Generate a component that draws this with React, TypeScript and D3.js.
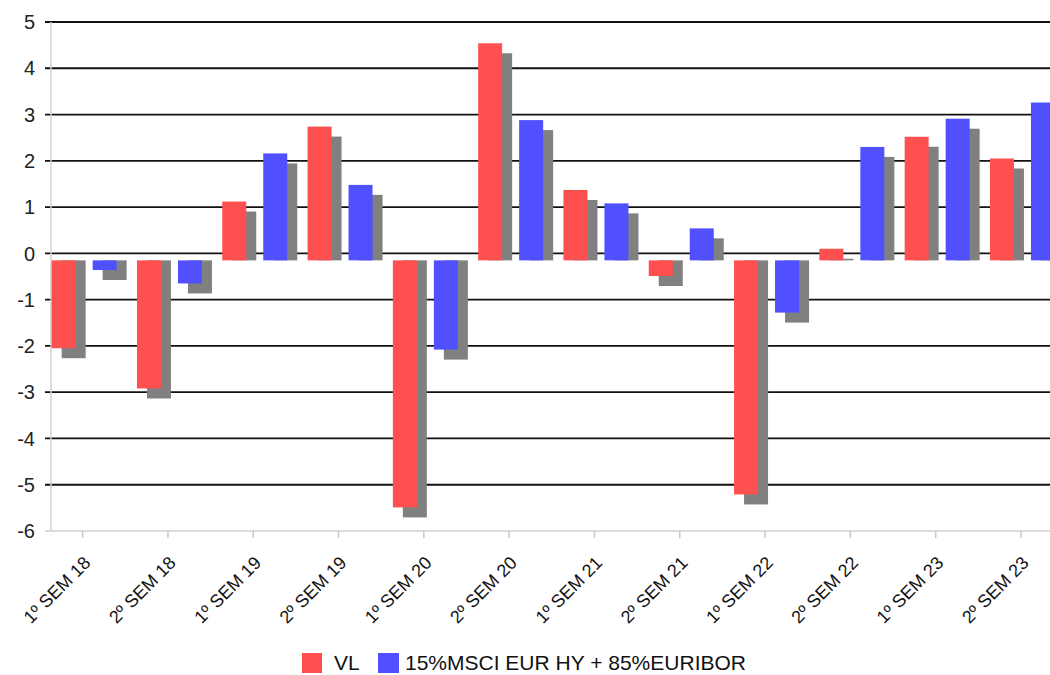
import * as d3 from 'd3';
import React from 'react';

const categories = [
  '1º SEM 18', '2º SEM 18', '1º SEM 19', '2º SEM 19', '1º SEM 20', '2º SEM 20',
  '1º SEM 21', '2º SEM 21', '1º SEM 22', '2º SEM 22', '1º SEM 23', '2º SEM 23',
];
const vlValues = [-2.05, -2.92, 1.12, 2.74, -5.49, 4.54, 1.37, -0.49, -5.21, 0.1, 2.52, 2.05];
const benchValues = [-0.36, -0.65, 2.16, 1.48, -2.08, 2.88, 1.08, 0.54, -1.28, 2.3, 2.91, 3.26];
const seriesNames = ['VL', '15%MSCI EUR HY + 85%EURIBOR'];
const seriesColors = ['#ff5050', '#5050ff'];
const yTicks = [5, 4, 3, 2, 1, 0, -1, -2, -3, -4, -5, -6];

const width = 1050;
const height = 675;
const font = '"Liberation Sans", Arial, sans-serif';

export default function App() {
  const axisX = 51;
  const x0 = d3
    .scaleBand<string>()
    .domain(categories)
    .range([41.5, 41.5 + 12 * 85.3])
    .paddingInner(0.238)
    .paddingOuter(0.119);
  const x1 = d3
    .scaleBand<string>()
    .domain(seriesNames)
    .range([0, x0.bandwidth()])
    .paddingInner(17 / 41);
  const y = d3.scaleLinear().domain([-6, 5]).range([531, 22]);

  const base = y(0) + 7; // bars sit a little below the zero line
  const shadow = 10;
  const series = [vlValues, benchValues];

  return (
    <svg
      width={width}
      height={height}
      style={{ position: 'absolute', left: 0, top: 0, background: '#fff' }}
      fontFamily={font}
    >
      {/* grid lines + y ticks */}
      {yTicks.map((t) =>
        t === -6 ? null : (
          <line key={`g${t}`} x1={45} x2={width} y1={y(t)} y2={y(t)} stroke="#111" strokeWidth={1.8} />
        ),
      )}
      {yTicks.map((t) => (
        <text
          key={`l${t}`}
          x={35}
          y={y(t)}
          dy="0.36em"
          textAnchor="end"
          fontSize={20}
          fill="#222"
        >
          {t}
        </text>
      ))}
      {/* axes */}
      <line x1={axisX} x2={axisX} y1={y(5)} y2={y(-6)} stroke="#d0d0d0" strokeWidth={1.5} />
      <line x1={45} x2={width} y1={y(-6)} y2={y(-6)} stroke="#d0d0d0" strokeWidth={1.5} />

      {/* bars */}
      {categories.map((c, i) => (
        <g key={c}>
          {series.map((vals, s) => {
            const v = vals[i];
            const bx = (x0(c) ?? 0) + (x1(seriesNames[s]) ?? 0);
            const bw = x1.bandwidth();
            const yv = y(v);
            const ys = yv + shadow;
            return (
              <g key={s}>
                <rect
                  x={bx + shadow}
                  y={Math.min(base, ys)}
                  width={bw}
                  height={Math.abs(base - ys)}
                  fill="#808080"
                />
                <rect
                  x={bx}
                  y={Math.min(base, yv)}
                  width={bw}
                  height={Math.abs(base - yv)}
                  fill={seriesColors[s]}
                />
              </g>
            );
          })}
        </g>
      ))}

      {/* x ticks and labels */}
      {categories.map((c) => {
        const cx = (x0(c) ?? 0) + x0.bandwidth() / 2 - 1.5;
        return (
          <g key={`t${c}`}>
            <line x1={cx} x2={cx} y1={y(-6)} y2={y(-6) + 7} stroke="#c8c8c8" strokeWidth={1.5} />
            <text
              transform={`translate(${cx + 9},564) rotate(-45)`}
              textAnchor="end"
              fontSize={18}
              fill="#111"
            >
              {c}
            </text>
          </g>
        );
      })}

      {/* legend */}
      <rect x={302} y={653} width={20} height={20} fill={seriesColors[0]} />
      <text x={334} y={670} fontSize={21} fill="#111">
        {seriesNames[0]}
      </text>
      <rect x={378} y={653} width={21} height={20} fill={seriesColors[1]} />
      <text x={405} y={670} fontSize={21} fill="#111">
        {seriesNames[1]}
      </text>
    </svg>
  );
}
